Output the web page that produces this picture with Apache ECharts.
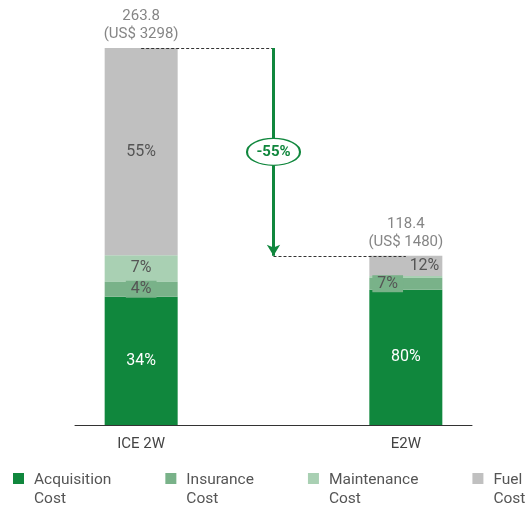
<!DOCTYPE html>
<html><head><meta charset="utf-8">
<script src="https://cdn.jsdelivr.net/npm/echarts@6/dist/echarts.min.js"></script>
<style>html,body{margin:0;padding:0;background:#fff}#c{width:527px;height:508px}</style>
</head><body><div id="c"></div>
<script>
const categories = ['ICE 2W', '', 'E2W'];
const seriesNames = ['Acquisition Cost', 'Insurance Cost', 'Maintenance Cost', 'Fuel Cost'];
const acquisition = [89.7, '-', 94.7];
const insurance = [10.6, '-', 8.3];
const maintenance = [18.5, '-', 1.2];
const fuel = [145.1, '-', 14.2];
const acquisitionPct = ['34%', '', '80%'];
const insurancePct = ['4%', '', '7%'];
const maintenancePct = ['7%', '', ''];
const fuelPct = ['55%', '', '12%'];
const totals = [263.8, '-', 118.4];
const totalsUsd = ['US$ 3298', '', 'US$ 1480'];
const changeLabel = '-55%';

const colors = ['#10873d', '#79b289', '#a9d0b3', '#c0c0c0'];
const FONT = 'Roboto';

function labelled(values, pcts, opts) {
  return values.map((v, i) => ({
    value: v,
    label: Object.assign({ show: pcts[i] !== '', formatter: pcts[i] }, opts[i] || {})
  }));
}

const chart = echarts.init(document.getElementById('c'), null, { renderer: 'canvas' });
const baseLabel = { fontFamily: FONT, fontSize: 16, color: '#555' };

const option = {
  animation: false,
  grid: { left: 75, right: 55, top: 48, bottom: 83 },
  xAxis: {
    type: 'category', data: categories,
    axisLine: { lineStyle: { color: '#333', width: 1 } },
    axisTick: { show: false },
    axisLabel: { fontFamily: FONT, fontSize: 15, color: '#444', margin: 12 }
  },
  yAxis: { type: 'value', min: 0, max: Math.max(263.8, 118.4), show: false, splitLine: { show: false } },
  legend: {
    data: seriesNames, left: 8, top: 466, width: 700, itemGap: 54,
    itemWidth: 11, itemHeight: 38,
    icon: 'path://M0,0h0.01v0.01h-0.01z M0,2h11v11h-11z M0,38h0.01v0.01h-0.01z',
    formatter: n => n.replace(' ', '\n'),
    textStyle: { fontFamily: FONT, fontSize: 15.5, color: '#555', lineHeight: 19, padding: [0, 0, 0, 5] }
  },
  series: [
    {
      name: seriesNames[0], type: 'bar', stack: 't', barWidth: 73, z: 3,
      itemStyle: { color: colors[0] },
      label: Object.assign({}, baseLabel, { position: 'inside', color: '#fff' }),
      data: labelled(acquisition, acquisitionPct, [])
    },
    {
      name: seriesNames[1], type: 'bar', stack: 't', barWidth: 73, z: 3,
      itemStyle: { color: colors[1] },
      label: Object.assign({}, baseLabel, { backgroundColor: colors[1], padding: [1, 5, 0, 5] }),
      data: labelled(insurance, insurancePct, [{ position: 'inside' }, {}, { position: 'insideLeft', offset: [-2, 0] }])
    },
    {
      name: seriesNames[2], type: 'bar', stack: 't', barWidth: 73, z: 2,
      itemStyle: { color: colors[2] },
      label: Object.assign({}, baseLabel, { position: 'inside' }),
      data: labelled(maintenance, maintenancePct, [])
    },
    {
      name: seriesNames[3], type: 'bar', stack: 't', barWidth: 73, z: 2,
      itemStyle: { color: colors[3] },
      label: Object.assign({}, baseLabel, { position: 'inside' }),
      data: labelled(fuel, fuelPct, [{}, {}, { position: 'insideRight', distance: 3 }])
    },
    {
      name: 'total', type: 'scatter', symbolSize: 0, z: 1,
      data: totals,
      label: {
        show: true, position: 'top', distance: 5,
        fontFamily: FONT, fontSize: 15, color: '#666', lineHeight: 18, align: 'center',
        formatter: p => p.value + '\n(' + totalsUsd[p.dataIndex] + ')'
      },
      markLine: {
        silent: true, symbol: 'none',
        label: { show: false },
        lineStyle: { color: '#333', type: [3, 2], width: 1 },
        data: [
          [{ coord: [0, totals[0]] }, { coord: [1, totals[0]] }],
          [{ coord: [1, totals[2]] }, { coord: [2, totals[2]] }],
          [
            { coord: [1, totals[0]], symbol: 'none', lineStyle: { color: '#10873d', type: 'solid', width: 3 } },
            { coord: [1, totals[2]], symbol: 'arrow', symbolSize: [10, 11] }
          ]
        ]
      },
      markPoint: {
        silent: true,
        symbol: 'circle', symbolSize: [53, 27],
        itemStyle: { color: '#fff', borderColor: '#10873d', borderWidth: 1.5 },
        label: { show: true, formatter: changeLabel, fontFamily: FONT, fontSize: 15, fontWeight: 'bold', color: '#10873d' },
        data: [{ coord: [1, (totals[0] + totals[2]) / 2] }]
      }
    }
  ]
};
chart.setOption(option);
</script></body></html>
